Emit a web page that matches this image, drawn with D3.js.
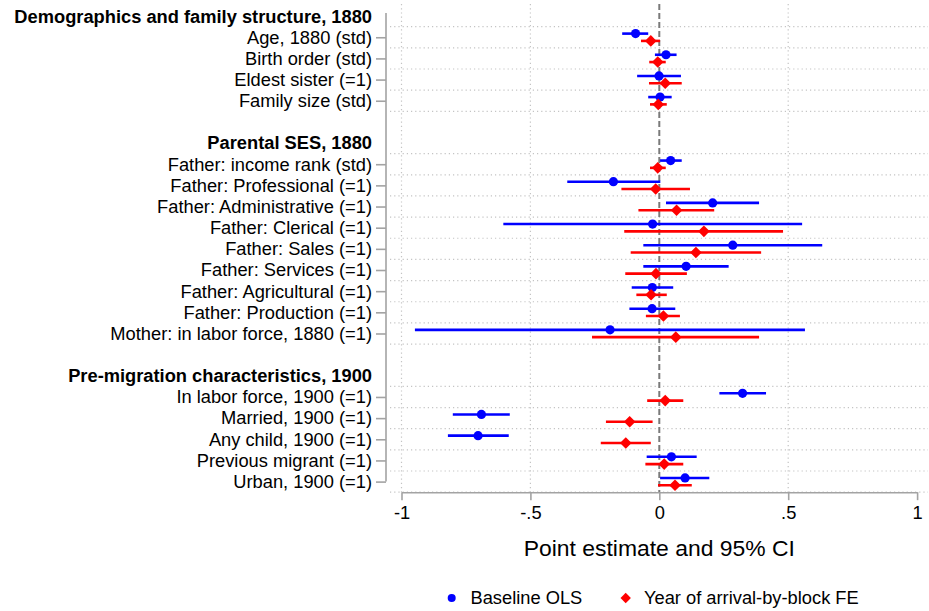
<!DOCTYPE html>
<html>
<head>
<meta charset="utf-8">
<script src="https://cdn.jsdelivr.net/npm/d3@7"></script>
<style>
  html, body { margin: 0; padding: 0; background: #fff; }
  svg { display: block; font-family: "Liberation Sans", Arial, Helvetica, sans-serif; }
</style>
</head>
<body>
<svg id="chart" width="929" height="611"></svg>
<script>
// Group headings and the covariates listed under each
const groups = [
  "Demographics and family structure, 1880",
  "Parental SES, 1880",
  "Pre-migration characteristics, 1900"
];
const variables = [
  "Age, 1880 (std)", "Birth order (std)", "Eldest sister (=1)", "Family size (std)",
  "Father: income rank (std)", "Father: Professional (=1)", "Father: Administrative (=1)",
  "Father: Clerical (=1)", "Father: Sales (=1)", "Father: Services (=1)",
  "Father: Agricultural (=1)", "Father: Production (=1)", "Mother: in labor force, 1880 (=1)",
  "In labor force, 1900 (=1)", "Married, 1900 (=1)", "Any child, 1900 (=1)",
  "Previous migrant (=1)", "Urban, 1900 (=1)"
];
const variableGroup = [0,0,0,0, 1,1,1,1,1,1,1,1,1, 2,2,2,2,2];

// Baseline OLS: point estimate and 95% CI
const olsEst = [-0.092, 0.026, -0.001, 0.003, 0.044, -0.178, 0.207, -0.026, 0.285, 0.104, -0.027, -0.028, -0.191, 0.323, -0.690, -0.703, 0.047, 0.100];
const olsLo  = [-0.144, -0.017, -0.086, -0.043, 0.003, -0.357, 0.026, -0.605, -0.062, -0.062, -0.107, -0.116, -0.948, 0.233, -0.801, -0.820, -0.049, 0.003];
const olsHi  = [-0.043, 0.067, 0.084, 0.048, 0.087, 0.004, 0.387, 0.554, 0.632, 0.269, 0.054, 0.062, 0.565, 0.414, -0.580, -0.584, 0.145, 0.194];

// Year of arrival-by-block FE: point estimate and 95% CI
const feEst = [-0.033, -0.006, 0.023, -0.004, -0.006, -0.014, 0.067, 0.173, 0.142, -0.013, -0.032, 0.016, 0.064, 0.023, -0.115, -0.130, 0.019, 0.061];
const feLo  = [-0.071, -0.039, -0.040, -0.036, -0.036, -0.147, -0.081, -0.136, -0.111, -0.132, -0.089, -0.052, -0.261, -0.047, -0.207, -0.227, -0.054, -0.005];
const feHi  = [0.003, 0.025, 0.087, 0.029, 0.025, 0.119, 0.213, 0.480, 0.395, 0.107, 0.029, 0.080, 0.387, 0.093, -0.026, -0.033, 0.093, 0.126];

const xTicks = [-1, -0.5, 0, 0.5, 1];
const xTickLabels = ["-1", "-.5", "0", ".5", "1"];
const xGridValues = [-1, -0.5, 0.5];
const seriesNames = ["Baseline OLS", "Year of arrival-by-block FE"];
const axisTitle = "Point estimate and 95% CI";

// Row slots: a heading row per group, blank row between groups
const headerSlot = [];
const varSlot = [];
let slot = -1;
groups.forEach((g, gi) => {
  if (gi > 0) slot += 1;
  headerSlot[gi] = slot;
  slot += 1;
  variables.forEach((v, vi) => {
    if (variableGroup[vi] === gi) { varSlot[vi] = slot; slot += 1; }
  });
});
const lastSlot = slot - 1;

const svg = d3.select("#chart");
const FONT = 18.3;
const blue = "#0000ff", red = "#ff0000";
const axisColor = "#a3a3a3", gridColor = "#c4c4c4";

const x = d3.scaleLinear().domain([-1, 1]).range([401.5, 917.1]);
const y = d3.scaleLinear().domain([-1, 21]).range([16.1, 481.6]);
const axisY = y(lastSlot + 0.5);
const plotTop = 4;
const off = 3.65;

// Horizontal dotted grid lines bounding each row
const gridYs = [];
groups.forEach((g, gi) => {
  const rows = varSlot.filter((s, vi) => variableGroup[vi] === gi);
  const first = d3.min(rows), last = d3.max(rows);
  for (let s = first; s <= last + 1; s++) gridYs.push(s - 0.5);
});
svg.append("g").selectAll("line").data(gridYs).join("line")
  .attr("x1", 390).attr("x2", 928)
  .attr("y1", d => y(d)).attr("y2", d => y(d))
  .attr("stroke", gridColor).attr("stroke-width", 1.2)
  .attr("stroke-dasharray", "1.2,3");

// Vertical dotted grid lines
svg.append("g").selectAll("line").data(xGridValues).join("line")
  .attr("x1", d => x(d)).attr("x2", d => x(d))
  .attr("y1", plotTop).attr("y2", axisY)
  .attr("stroke", gridColor).attr("stroke-width", 1.2)
  .attr("stroke-dasharray", "1.2,3");

// Zero reference line
svg.append("line")
  .attr("x1", x(0)).attr("x2", x(0)).attr("y1", plotTop).attr("y2", axisY)
  .attr("stroke", "#7a7a7a").attr("stroke-width", 2)
  .attr("stroke-dasharray", "6,3");

// X axis
const xAxis = d3.axisBottom(x).tickValues(xTicks)
  .tickFormat((d, i) => xTickLabels[i]).tickSize(8).tickPadding(6).tickSizeOuter(0);
const gx = svg.append("g").attr("transform", `translate(0,${axisY})`).call(xAxis);
gx.select(".domain").attr("stroke", axisColor).attr("stroke-width", 1.6);
gx.selectAll(".tick line").attr("stroke", axisColor).attr("stroke-width", 1.6);
gx.selectAll(".tick text").attr("font-size", FONT).attr("fill", "#000")
  .attr("font-family", "Liberation Sans, Arial, sans-serif");

// Y axis: ticks for covariate rows only
const yAxis = d3.axisLeft(y).tickValues(varSlot)
  .tickFormat((d, i) => variables[i]).tickSize(10).tickPadding(4).tickSizeOuter(0);
const gy = svg.append("g").attr("transform", "translate(386,0)").call(yAxis);
gy.select(".domain").remove();
gy.selectAll(".tick line").attr("stroke", axisColor).attr("stroke-width", 1.6);
gy.selectAll(".tick text").attr("font-size", FONT).attr("fill", "#000")
  .attr("font-family", "Liberation Sans, Arial, sans-serif");
gy.append("line").attr("x1", 0).attr("x2", 0)
  .attr("y1", y(-1) - 3).attr("y2", y(lastSlot))
  .attr("stroke", axisColor).attr("stroke-width", 1.6);

// Group headings
svg.append("g").selectAll("text").data(groups).join("text")
  .attr("x", 372).attr("y", (d, i) => y(headerSlot[i])).attr("dy", "0.35em")
  .attr("text-anchor", "end").attr("font-size", FONT).attr("font-weight", "bold")
  .text(d => d);

// Confidence intervals and estimates
const rows = variables.map((v, i) => ({ i, slot: varSlot[i] }));
const gOls = svg.append("g");
gOls.selectAll("line").data(rows).join("line")
  .attr("x1", d => x(olsLo[d.i])).attr("x2", d => x(olsHi[d.i]))
  .attr("y1", d => y(d.slot) - off).attr("y2", d => y(d.slot) - off)
  .attr("stroke", blue).attr("stroke-width", 2.6);
const gFe = svg.append("g");
gFe.selectAll("line").data(rows).join("line")
  .attr("x1", d => x(feLo[d.i])).attr("x2", d => x(feHi[d.i]))
  .attr("y1", d => y(d.slot) + off).attr("y2", d => y(d.slot) + off)
  .attr("stroke", red).attr("stroke-width", 2.6);

gOls.selectAll("circle").data(rows).join("circle")
  .attr("cx", d => x(olsEst[d.i])).attr("cy", d => y(d.slot) - off)
  .attr("r", 4.6).attr("fill", blue);
const diamond = (cx, cy, h) => `M${cx},${cy - h}L${cx + h},${cy}L${cx},${cy + h}L${cx - h},${cy}Z`;
gFe.selectAll("path").data(rows).join("path")
  .attr("d", d => diamond(x(feEst[d.i]), y(d.slot) + off, 5.8))
  .attr("fill", red);

// Axis title
svg.append("text").attr("x", (x(-1) + x(1)) / 2).attr("y", 556)
  .attr("text-anchor", "middle").attr("font-size", 22.9).text(axisTitle);

// Legend
const legY = 598;
const legend = svg.append("g");
legend.append("circle").attr("cx", 451.7).attr("cy", legY).attr("r", 4).attr("fill", blue);
legend.append("text").attr("x", 470.5).attr("y", legY).attr("dy", "0.35em")
  .attr("font-size", FONT).text(seriesNames[0]);
legend.append("path").attr("d", diamond(625.7, legY, 5.2)).attr("fill", red);
legend.append("text").attr("x", 644).attr("y", legY).attr("dy", "0.35em")
  .attr("font-size", FONT).text(seriesNames[1]);
</script>
</body>
</html>
